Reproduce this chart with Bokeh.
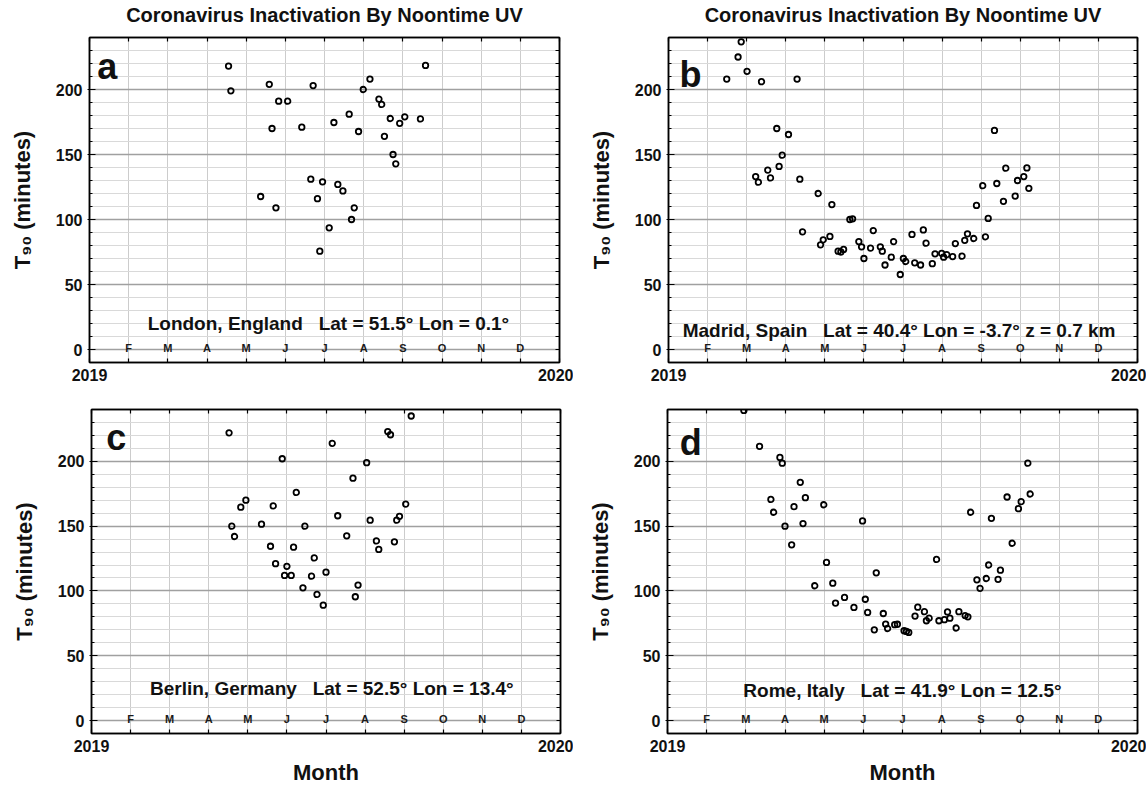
from bokeh.plotting import figure
from bokeh.layouts import column, row
from bokeh.models import Range1d, FixedTicker, LinearAxis, Label, ColumnDataSource
from bokeh.core.properties import value
from bokeh.embed import file_html
from bokeh.resources import INLINE

FONT = "Liberation Sans"
NB = "\u00a0"

# ---- data (x = months elapsed since 1 Jan 2019, y = T90 in minutes) ----
month_letters = ["F", "M", "A", "M", "J", "J", "A", "S", "O", "N", "D"]
month_positions = [1, 2, 3, 4, 5, 6, 7, 8, 9, 10, 11]
year_labels = {0: "2019", 12: "2020"}
y_major = [0, 50, 100, 150, 200]
y_minor = list(range(-10, 241, 10))

london_x = [3.55, 3.61, 4.37, 4.59, 4.66, 4.76, 4.83, 5.06, 5.42, 5.65, 5.71, 5.82,
            5.88, 5.95, 6.12, 6.24, 6.34, 6.47, 6.63, 6.69, 6.76, 6.87, 6.99, 7.16,
            7.39, 7.46, 7.53, 7.68, 7.75, 7.82, 7.92, 8.05, 8.45, 8.58]
london_y = [218, 199, 117.7, 204, 170, 109, 191, 191, 171, 131, 203, 116,
            75.6, 129, 93.6, 174.6, 127, 122, 181, 100, 109, 167.7, 200, 208,
            192.6, 188.5, 164, 177.7, 150, 142.8, 174, 179, 177.4, 218.5]

madrid_x = [1.49, 1.78, 1.86, 2.01, 2.23, 2.30, 2.38, 2.54, 2.61, 2.77, 2.83, 2.91,
            3.07, 3.29, 3.36, 3.43, 3.83, 3.89, 3.96, 4.13, 4.18, 4.34, 4.41, 4.48,
            4.64, 4.71, 4.87, 4.94, 5.00, 5.17, 5.24, 5.42, 5.47, 5.54, 5.70, 5.76,
            5.93, 6.01, 6.07, 6.23, 6.30, 6.45, 6.52, 6.59, 6.75, 6.82, 6.99, 7.04,
            7.12, 7.27, 7.34, 7.51, 7.58, 7.65, 7.81, 7.88, 8.04, 8.11, 8.18, 8.34,
            8.40, 8.57, 8.63, 8.87, 8.93, 9.09, 9.17, 9.22]
madrid_y = [208, 225, 236.7, 214, 133, 128.7, 206, 138, 132, 170, 140.8, 149.5,
            165.4, 208, 131, 90.5, 120, 80.5, 84.4, 87, 111.5, 75.6, 75, 77,
            100, 100.5, 83, 79, 70, 78, 91.5, 79, 75.6, 65, 71, 83,
            57.7, 70, 67.7, 88.5, 66.7, 65, 92, 81.8, 66, 73.6, 74, 71,
            73, 71.5, 81.5, 71.8, 84, 89, 85.4, 110.8, 126, 86.7, 100.8, 168.5,
            127.7, 114, 139.5, 118, 130, 133, 139.7, 124]

berlin_x = [3.52, 3.59, 3.66, 3.82, 3.95, 4.35, 4.58, 4.65, 4.71, 4.88, 4.94, 5.00,
            5.11, 5.17, 5.24, 5.41, 5.46, 5.63, 5.70, 5.77, 5.93, 6.00, 6.16, 6.30,
            6.53, 6.69, 6.75, 6.82, 7.04, 7.13, 7.29, 7.35, 7.58, 7.65, 7.75, 7.81,
            7.88, 8.04, 8.18]
berlin_y = [222, 150, 142, 164.6, 170, 151.5, 134.5, 165.6, 121, 202, 112, 119,
            112, 133.8, 176, 102.4, 150, 111.4, 125.5, 97.3, 89, 114.5, 213.9, 158,
            142.5, 187, 95.5, 104.5, 199, 154.6, 138.6, 132, 223, 220.5, 137.9, 154.6,
            157.6, 167, 235]

rome_x = [1.95, 2.35, 2.64, 2.71, 2.87, 2.93, 3.00, 3.17, 3.23, 3.39, 3.46, 3.52,
          3.76, 3.99, 4.06, 4.22, 4.29, 4.52, 4.76, 4.98, 5.05, 5.11, 5.28, 5.33,
          5.51, 5.57, 5.62, 5.80, 5.87, 6.04, 6.10, 6.16, 6.32, 6.39, 6.56, 6.61,
          6.68, 6.87, 6.93, 7.07, 7.15, 7.21, 7.37, 7.44, 7.60, 7.67, 7.74, 7.90,
          7.98, 8.14, 8.20, 8.27, 8.44, 8.50, 8.67, 8.80, 8.96, 9.03, 9.20, 9.26]
rome_y = [239.3, 211.6, 170.6, 160.7, 203, 198.6, 150, 135.6, 165, 183.8, 152, 172,
          104, 166.5, 122, 106, 90.6, 95, 87.3, 154, 93.6, 83.4, 70, 114,
          82.6, 74.4, 71, 74, 74.3, 69.3, 68.8, 68, 80.6, 87.5, 84, 77,
          79, 124.3, 77, 77.8, 83.8, 79, 71.4, 84, 81, 80, 160.7, 108.6,
          102, 109.6, 120, 156, 109, 116, 172.5, 136.8, 163.5, 168.9, 198.6, 174.8]

TITLE = "Coronavirus Inactivation By Noontime UV"
Y_LABEL = "T\u2089\u2080 (minutes)"
X_LABEL = "Month"


def make_panel(xs, ys, letter, letter_xy, caption, caption_xy, title, xlabel,
               borders, frame):
    bl, br, bt, bb = borders
    fw, fh = frame
    p = figure(frame_width=fw, frame_height=fh,
               x_range=Range1d(0, 12), y_range=Range1d(-10, 240),
               output_backend="svg", toolbar_location=None,
               min_border_left=bl, min_border_right=br,
               min_border_top=bt, min_border_bottom=bb,
               background_fill_color="white", border_fill_color="white")
    month_grid = FixedTicker(ticks=list(range(0, 13)))
    xticker = FixedTicker(ticks=list(year_labels.keys()), minor_ticks=list(range(0, 13)))
    yticker = FixedTicker(ticks=y_major, minor_ticks=y_minor)

    # grids
    p.xgrid.ticker = month_grid
    p.ygrid.ticker = yticker
    p.xgrid.grid_line_color = "#cccccc"
    p.xgrid.grid_line_width = 1
    p.ygrid.grid_line_color = "#a0a0a0"
    p.ygrid.grid_line_width = 1.3
    p.ygrid.minor_grid_line_color = "#d9d9d9"
    p.ygrid.minor_grid_line_width = 1

    # bottom axis: year labels at the ends, month ticks as minor ticks
    xa = p.xaxis[0]
    xa.ticker = xticker
    xa.major_label_overrides = dict(year_labels)
    xa.major_tick_in = 4
    xa.major_tick_out = 0
    xa.minor_tick_in = 4
    xa.minor_tick_out = 0
    xa.minor_tick_line_color = "black"
    xa.minor_tick_line_width = 1.2
    xa.major_label_standoff = 6
    xa.major_label_text_font = FONT
    xa.major_label_text_font_style = "bold"
    xa.major_label_text_font_size = "16px"
    xa.major_label_text_color = "#111111"
    xa.axis_line_color = "black"
    xa.axis_line_width = 1.5
    if xlabel:
        xa.axis_label = xlabel
        xa.axis_label_text_font = FONT
        xa.axis_label_text_font_style = "bold"
        xa.axis_label_text_font_size = "22px"
        xa.axis_label_text_color = "#111111"
        xa.axis_label_standoff = 5

    # left axis
    ya = p.yaxis[0]
    ya.ticker = yticker
    ya.major_tick_in = 6
    ya.major_tick_out = 2
    ya.minor_tick_in = 3
    ya.minor_tick_out = 0
    ya.major_label_standoff = 5
    ya.major_label_text_font = FONT
    ya.major_label_text_font_style = "bold"
    ya.major_label_text_font_size = "16px"
    ya.major_label_text_color = "#111111"
    ya.axis_line_color = "black"
    ya.axis_line_width = 1.5
    ya.axis_label = Y_LABEL
    ya.axis_label_text_font = FONT
    ya.axis_label_text_font_style = "bold"
    ya.axis_label_text_font_size = "22px"
    ya.axis_label_text_color = "#111111"
    ya.axis_label_standoff = 18

    # mirrored axes: ticks only (no major ticks -> no labels)
    ra = LinearAxis(ticker=FixedTicker(ticks=[], minor_ticks=y_minor),
                    major_tick_in=0, major_tick_out=0, minor_tick_in=4, minor_tick_out=0,
                    minor_tick_line_width=1.2,
                    major_label_standoff=0, axis_line_color="black", axis_line_width=1.5)
    p.add_layout(ra, "right")
    ta = LinearAxis(ticker=FixedTicker(ticks=[], minor_ticks=list(range(0, 13))),
                    major_tick_in=0, major_tick_out=0, minor_tick_in=4, minor_tick_out=0,
                    minor_tick_line_width=1.2,
                    major_label_standoff=0, axis_line_color="black", axis_line_width=1.5)
    if title:
        # title drawn as the label of the top axis, above the frame
        ta.axis_label = title
        ta.axis_label_text_font = FONT
        ta.axis_label_text_font_style = "bold"
        ta.axis_label_text_font_size = "20px"
        ta.axis_label_text_color = "#111111"
        ta.axis_label_standoff = 12
    p.add_layout(ta, "above")

    p.outline_line_color = "black"
    p.outline_line_width = 1.5

    # month letters along y = 0
    src = ColumnDataSource(dict(x=month_positions, y=[1] * len(month_positions),
                                t=month_letters))
    p.text(x="x", y="y", text="t", source=src, text_font=value(FONT),
           text_font_style="bold", text_font_size="11px", text_color="#1a1a1a",
           text_align="center", text_baseline="middle")

    # data
    p.scatter(xs, ys, marker="circle", size=5.5, fill_color=None,
              line_color="black", line_width=1.8)

    # panel letter
    p.add_layout(Label(x=letter_xy[0], y=letter_xy[1], text=letter,
                       text_font=FONT, text_font_style="bold", text_font_size="36px",
                       text_color="#111111", text_align="left",
                       text_baseline="alphabetic"))
    # caption
    p.add_layout(Label(x=caption_xy[0], y=caption_xy[1], text=caption,
                       text_font=FONT, text_font_style="bold", text_font_size="19px",
                       text_color="#111111", text_align="center",
                       text_baseline="middle"))
    return p


pa = make_panel(london_x, london_y, "a", (0.2, 218),
                "London, England" + NB * 3 + "Lat = 51.5\u00b0 Lon = 0.1\u00b0", (6.1, 20),
                TITLE, None, (89, 14, 37, 33), (470, 325))
pb = make_panel(madrid_x, madrid_y, "b", (0.28, 211.5),
                "Madrid, Spain" + NB * 3 + "Lat = 40.4\u00b0 Lon = -3.7\u00b0 z = 0.7 km", (5.9, 14.6),
                TITLE, None, (95, 9, 37, 33), (469, 325))
pc = make_panel(berlin_x, berlin_y, "c", (0.38, 218.5),
                "Berlin, Germany" + NB * 3 + "Lat = 52.5\u00b0 Lon = 13.4\u00b0", (6.15, 25),
                None, X_LABEL, (91, 13, 14, 56), (469, 324))
pd = make_panel(rome_x, rome_y, "d", (0.31, 214.6),
                "Rome, Italy" + NB * 3 + "Lat = 41.9\u00b0 Lon = 12.5\u00b0", (6.0, 23.4),
                None, X_LABEL, (94, 9, 14, 56), (470, 324))

layout = column(row(pa, pb, spacing=0), row(pc, pd, spacing=0), spacing=0)

with open("out.html", "w") as f:
    f.write(file_html(layout, INLINE))
